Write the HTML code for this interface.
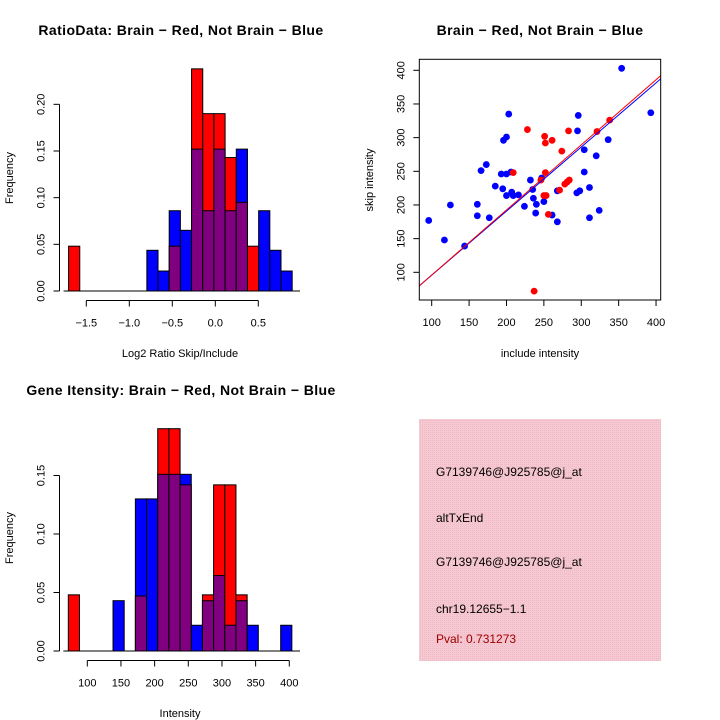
<!DOCTYPE html>
<html><head><meta charset="utf-8"><style>
body{margin:0;background:#fff;}
svg{display:block;font-family:"Liberation Sans",sans-serif;}
</style></head><body>
<svg id="c" width="720" height="720" viewBox="0 0 720 720" xmlns="http://www.w3.org/2000/svg">
<rect width="720" height="720" fill="#fff"/>
<defs><pattern id="pk" width="2" height="2" patternUnits="userSpaceOnUse"><rect width="2" height="2" fill="#f6c8d2"/><rect width="1" height="1" fill="#eeb8c4"/></pattern></defs>
<g id="h1"></g>
<g id="sc"></g>
<g id="h2"></g>
<g>
<rect x="419" y="419" width="242" height="242" fill="url(#pk)"/>
<text x="436" y="476" font-size="12">G7139746@J925785@j_at</text>
<text x="436" y="522" font-size="12">altTxEnd</text>
<text x="436" y="566" font-size="12">G7139746@J925785@j_at</text>
<text x="436" y="613" font-size="12">chr19.12655−1.1</text>
<text x="436" y="643" font-size="12" fill="#a00000">Pval: 0.731273</text>
</g>
</svg>
<script>
// Ratio histogram data
const h1Start = -1.706, h1Width = 0.13;
const h1Red  = [0.048,0,0,0,0,0,0,0,0,0.048,0,0.238,0.190,0.190,0.143,0.095,0.048,0,0,0];
const h1Blue = [0,0,0,0,0,0,0,0.0436,0.0214,0.086,0.065,0.152,0.086,0.152,0.086,0.152,0,0.086,0.0436,0.0214];
const h1XTicks = [-1.5,-1.0,-0.5,0,0.5];
const h1XLabels = ["−1.5","−1.0","−0.5","0.0","0.5"];
const h1YTicks = [0,0.05,0.10,0.15,0.20];
const h1YLabels = ["0.00","0.05","0.10","0.15","0.20"];
// Intensity histogram data
const h2Start = 71.8, h2Width = 16.6;
const h2Red  = [0.048,0,0,0,0,0,0.047,0,0.190,0.190,0.142,0,0.048,0.142,0.142,0.048,0,0,0,0];
const h2Blue = [0,0,0,0,0.043,0,0.130,0.130,0.151,0.151,0.151,0.022,0.043,0.0645,0.022,0.043,0.022,0,0,0.022];
const h2XTicks = [100,150,200,250,300,350,400];
const h2XLabels = ["100","150","200","250","300","350","400"];
const h2YTicks = [0,0.05,0.10,0.15];
const h2YLabels = ["0.00","0.05","0.10","0.15"];
// Scatter data
const blueX = [96,117,125,144,161,161,166,173,177,185,193,195,196,200,200,200,203,206,207,209,216,224,232,235,236,240,239,247,250,261,268,268,295,296,294,298,304,304,311,311,320,324,336,354,393];
const blueY = [177,148,200,139,201,184,251,260,181,228,246,224,296,301,214,246,335,249,219,214,215,198,237,223,210,201,188,240,205,185,221,175,310,333,218,221,282,249,226,181,273,192,297,403,337];
const redX = [228,251,252,261,252,274,283,321,338,209,246,250,253,256,271,278,281,284,237];
const redY = [312,302,292,296,248,280,310,309,326,248,237,214,214,186,222,231,234,237,72];
const redFit = [-0.8,0.967];
const blueFit = [0.5,0.952];
const scTicks = [100,150,200,250,300,350,400];
const scLabels = ["100","150","200","250","300","350","400"];

const NS="http://www.w3.org/2000/svg";
function mk(parent,tag,attrs,txt){const e=document.createElementNS(NS,tag);for(const k in attrs)e.setAttribute(k,attrs[k]);if(txt!=null)e.textContent=txt;parent.appendChild(e);return e;}

function hist(g,start,w,red,blue,xT,xL,yT,yL,sx,sy,xAxisY,yAxisX,title,titleY,xlab,xlabY,ylabY){
  for(let i=0;i<red.length;i++){
    const x0=sx(start+i*w), x1=sx(start+(i+1)*w);
    const r=red[i], b=blue[i], mn=Math.min(r,b), mx=Math.max(r,b);
    if(mx>0){
      const e=mk(g,'rect',{x:x0,y:sy(mx),width:x1-x0,height:sy(0)-sy(mx),fill:r>=b?'#ff0000':'#0000ff',stroke:'#000','stroke-width':1});
      
      
    }
    if(mn>0){
      const e=mk(g,'rect',{x:x0,y:sy(mn),width:x1-x0,height:sy(0)-sy(mn),fill:'#800080',stroke:'#000','stroke-width':1});
      
      
    }
  }
  mk(g,'line',{x1:sx(start)-5,x2:300,y1:sy(0),y2:sy(0),stroke:'#000'});
  const xa=mk(g,'g',{});
  
  
  mk(xa,'line',{x1:sx(xT[0]),x2:sx(xT[xT.length-1]),y1:xAxisY,y2:xAxisY,stroke:'#000'});
  xT.forEach((t,i)=>{mk(xa,'line',{x1:sx(t),x2:sx(t),y1:xAxisY,y2:xAxisY+6,stroke:'#000'});
    mk(xa,'text',{x:sx(t),y:xAxisY+26,'font-size':11,'text-anchor':'middle'},xL[i]);});
  const ya=mk(g,'g',{});
  
  
  mk(ya,'line',{x1:yAxisX,x2:yAxisX,y1:sy(yT[0]),y2:sy(yT[yT.length-1]),stroke:'#000'});
  yT.forEach((t,i)=>{mk(ya,'line',{x1:yAxisX-6,x2:yAxisX,y1:sy(t),y2:sy(t),stroke:'#000'});
    mk(ya,'text',{x:0,y:0,'font-size':11,'text-anchor':'middle',transform:`translate(${yAxisX-15},${sy(t)}) rotate(-90)`},yL[i]);});
  const yl=mk(g,'text',{x:0,y:0,'font-size':11,'text-anchor':'middle',transform:`translate(13,${ylabY}) rotate(-90)`},'Frequency');
  
  
  const xl=mk(g,'text',{x:180,y:xlabY,'font-size':11,'text-anchor':'middle'},xlab);
  
  
  const tt=mk(g,'text',{x:181,y:titleY,'font-size':14,'font-weight':'bold','text-anchor':'middle','letter-spacing':'0.4'},title);
  
  
}

{
  const sx=v=>215.3+v*86, sy=v=>291-v*933.4;
  hist(document.getElementById('h1'),h1Start,h1Width,h1Red,h1Blue,h1XTicks,h1XLabels,h1YTicks,h1YLabels,sx,sy,300.5,59.5,'RatioData: Brain − Red, Not Brain − Blue',35,'Log2 Ratio Skip/Include',357,178);
}
{
  const sx=v=>87.3+(v-100)*0.6733, sy=v=>651-v*1170;
  hist(document.getElementById('h2'),h2Start,h2Width,h2Red,h2Blue,h2XTicks,h2XLabels,h2YTicks,h2YLabels,sx,sy,660.5,59.5,'Gene Itensity: Brain − Red, Not Brain − Blue',395,'Intensity',717,538);
}
{
  const g=document.getElementById('sc');
  const sx=v=>431.7+(v-100)*0.7478, sy=v=>272.3-(v-100)*0.6733;
  const L=419.3,R=660.7,T=59.3,B=300;
  const cp=mk(g,'clipPath',{id:'scclip'});mk(cp,'rect',{x:L,y:T,width:R-L,height:B-T});
  const pts=mk(g,'g',{'clip-path':'url(#scclip)'});
  blueX.forEach((x,i)=>{const e=mk(pts,'circle',{cx:sx(x),cy:sy(blueY[i]),r:3.4,fill:'#0000ff'});
    
    });
  redX.forEach((x,i)=>{const e=mk(pts,'circle',{cx:sx(x),cy:sy(redY[i]),r:3.4,fill:'#ff0000'});
    
    });
  const x0=80,x1=410;
  const bl=mk(pts,'line',{x1:sx(x0),y1:sy(blueFit[0]+blueFit[1]*x0),x2:sx(x1),y2:sy(blueFit[0]+blueFit[1]*x1),stroke:'#0000ff'});
  
  
  const rl=mk(pts,'line',{x1:sx(x0),y1:sy(redFit[0]+redFit[1]*x0),x2:sx(x1),y2:sy(redFit[0]+redFit[1]*x1),stroke:'#ff0000'});
  
  
  mk(g,'rect',{x:L,y:T,width:R-L,height:B-T,fill:'none',stroke:'#000'});
  scTicks.forEach((t,i)=>{
    mk(g,'line',{x1:sx(t),x2:sx(t),y1:B,y2:B+6,stroke:'#000'});
    mk(g,'text',{x:sx(t),y:B+26,'font-size':11,'text-anchor':'middle'},scLabels[i]);
    mk(g,'line',{x1:L-6,x2:L,y1:sy(t),y2:sy(t),stroke:'#000'});
    mk(g,'text',{x:0,y:0,'font-size':11,'text-anchor':'middle',transform:`translate(${L-15},${sy(t)}) rotate(-90)`},scLabels[i]);
  });
  const xl=mk(g,'text',{x:540,y:357,'font-size':11,'text-anchor':'middle'},'include intensity');
  
  
  const yl=mk(g,'text',{x:0,y:0,'font-size':11,'text-anchor':'middle',transform:'translate(373,180) rotate(-90)'},'skip intensity');
  
  
  const tt=mk(g,'text',{x:540,y:35,'font-size':14,'font-weight':'bold','text-anchor':'middle','letter-spacing':'0.4'},'Brain − Red, Not Brain − Blue');
  
  
}
</script>
</body></html>
